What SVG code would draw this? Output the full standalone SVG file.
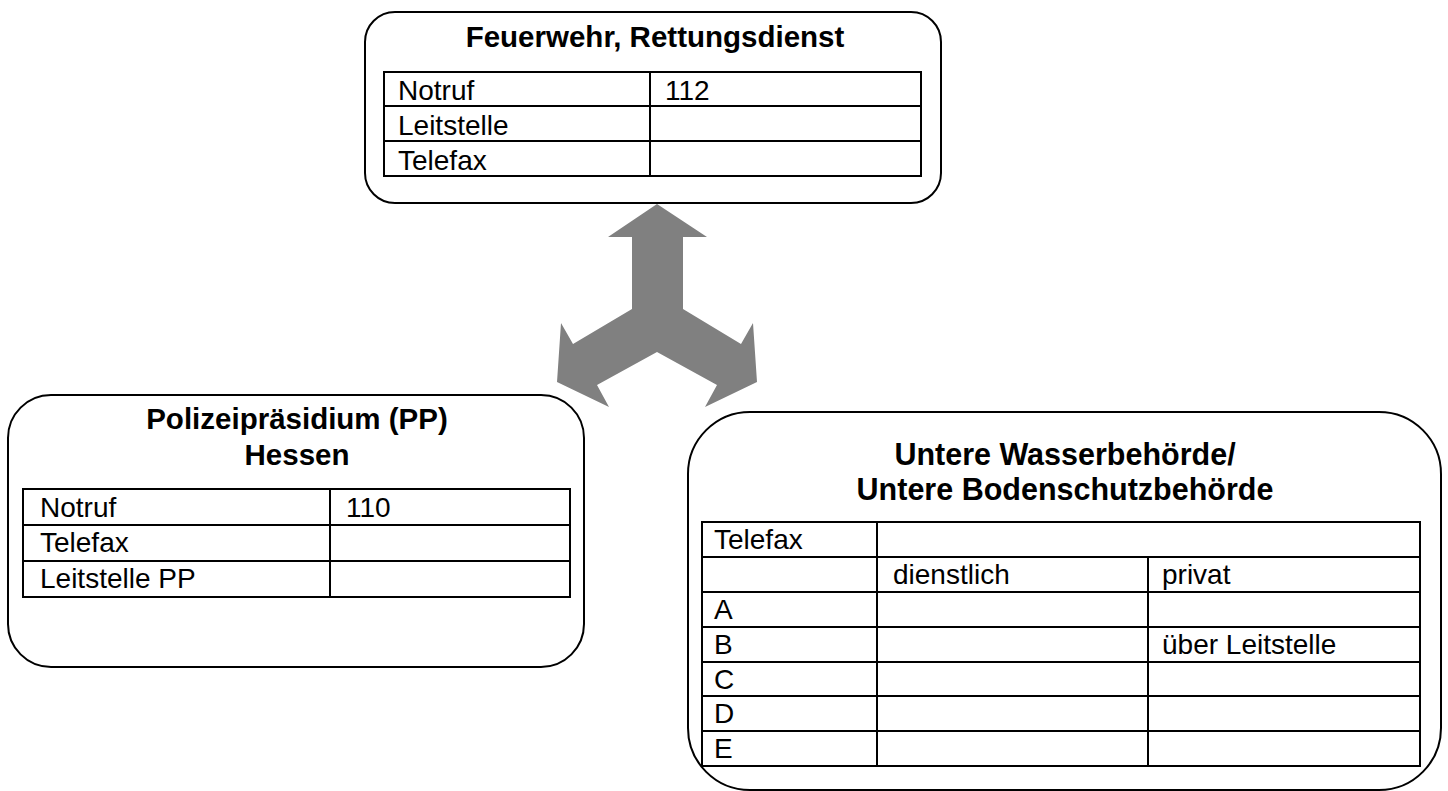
<svg xmlns="http://www.w3.org/2000/svg" width="1448" height="791" viewBox="0 0 1448 791">
<style>
.box{fill:#fff;stroke:#000;stroke-width:2}
.grid{fill:none;stroke:#000;stroke-width:2}
.title{font-family:"Liberation Sans",Arial,sans-serif;font-weight:bold;font-size:29.5px;text-anchor:middle;fill:#000}
.title-lg{font-size:30.5px}
.cell{font-family:"Liberation Sans",Arial,sans-serif;font-size:28px;fill:#000}
.arrow{fill:#808080;stroke:none}
</style>
<rect x="0" y="0" width="1448" height="791" fill="#fff"/>
<g id="connectors">
<polygon class="arrow" points="657,204 707,237 683,237 683,309 741,344 753,323 757,382 705,407 717,385 657,352 597,385 609,407 557,382 561,323 573,344 632,309 632,237 608,237"/>
</g>
<g id="node-feuerwehr">
<rect class="box" x="365" y="12" width="576" height="191" rx="30" ry="30"/>
<text class="title" x="655" y="47">Feuerwehr, Rettungsdienst</text>
<rect class="grid" x="384" y="72" width="537" height="104"/>
<path class="grid" d="M384,106H921M384,141H921M650,72V176"/>
<text class="cell" x="398" y="100">Notruf</text>
<text class="cell" x="665" y="100">112</text>
<text class="cell" x="398" y="135">Leitstelle</text>
<text class="cell" x="398" y="170">Telefax</text>
</g>
<g id="node-polizei">
<rect class="box" x="8" y="395" width="576" height="272" rx="43" ry="43"/>
<text class="title" x="297" y="429">Polizeipräsidium (PP)</text>
<text class="title" x="297" y="465">Hessen</text>
<rect class="grid" x="23" y="489" width="547" height="108"/>
<path class="grid" d="M23,525H570M23,561H570M330,489V597"/>
<text class="cell" x="40" y="517">Notruf</text>
<text class="cell" x="346" y="517">110</text>
<text class="cell" x="40" y="552">Telefax</text>
<text class="cell" x="40" y="588">Leitstelle PP</text>
</g>
<g id="node-wasser">
<rect class="box" x="688" y="412" width="753" height="378" rx="62" ry="62"/>
<text class="title title-lg" x="1065" y="465">Untere Wasserbehörde/</text>
<text class="title title-lg" x="1065" y="500">Untere Bodenschutzbehörde</text>
<rect class="grid" x="702" y="522" width="718" height="244"/>
<path class="grid" d="M702,557H1420M702,592H1420M702,627H1420M702,662H1420M702,696H1420M702,731H1420M877,522V766M1148,557V766"/>
<text class="cell" x="714" y="549">Telefax</text>
<text class="cell" x="893" y="584">dienstlich</text>
<text class="cell" x="1162" y="584">privat</text>
<text class="cell" x="714" y="619">A</text>
<text class="cell" x="714" y="654">B</text>
<text class="cell" x="1162" y="654">über Leitstelle</text>
<text class="cell" x="714" y="689">C</text>
<text class="cell" x="714" y="723">D</text>
<text class="cell" x="714" y="758">E</text>
</g>
</svg>
